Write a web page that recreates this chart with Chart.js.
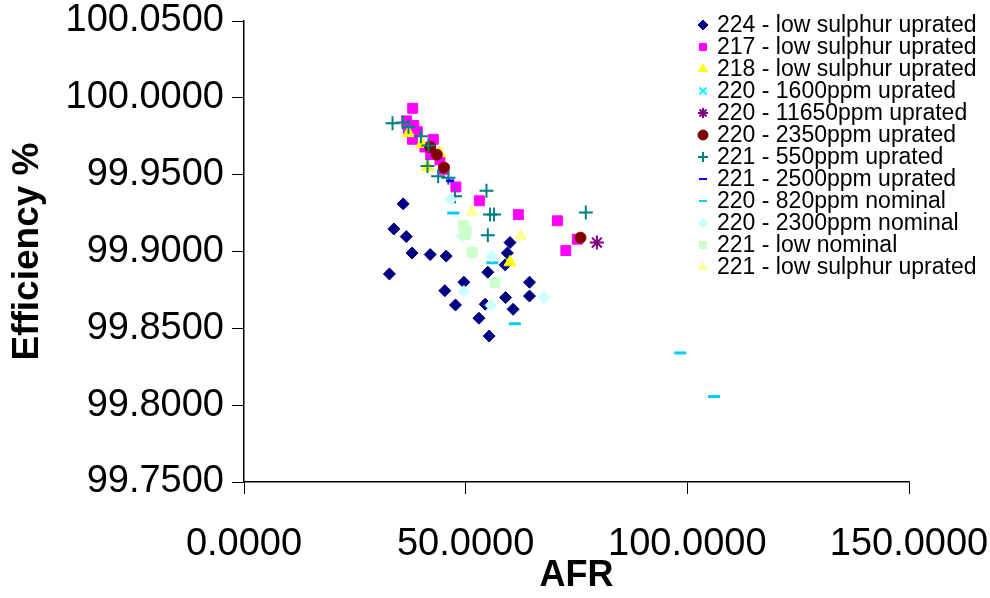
<!DOCTYPE html>
<html>
<head>
<meta charset="utf-8">
<script src="https://cdn.jsdelivr.net/npm/chart.js@4.4.1/dist/chart.umd.min.js"></script>
<style>
  html, body { margin: 0; padding: 0; background: #fff; }
  #wrap { width: 990px; height: 598px; position: relative; }
</style>
</head>
<body>
<div id="wrap"><canvas id="effChart"></canvas></div>
<script>
// AFR / efficiency pairs, one pair of arrays per series
const s224x = [35.9, 33.8, 36.6, 37.9, 42.0, 45.6, 32.8, 49.6, 45.3, 47.7, 54.4, 53.0, 55.3, 55.0, 58.9, 59.4, 60.0, 64.4, 64.4, 59.0, 60.7];
const s224y = [99.931, 99.9147, 99.9097, 99.899, 99.898, 99.897, 99.8854, 99.880, 99.8745, 99.8652, 99.8657, 99.8566, 99.845, 99.8865, 99.8913, 99.899, 99.9058, 99.880, 99.871, 99.870, 99.8624];

const s217x = [38.05, 36.7, 38.3, 37.1, 39.1, 38.0, 42.7, 40.8, 42.1, 44.2, 45.1, 47.8, 53.1, 61.9, 70.7, 72.6, 75.2];
const s217y = [99.9932, 99.985, 99.982, 99.9795, 99.978, 99.973, 99.973, 99.968, 99.963, 99.9596, 99.9535, 99.942, 99.933, 99.924, 99.920, 99.9006, 99.908];

const s218x = [37.1, 40.1, 44.1, 41.4, 60.0];
const s218y = [99.977, 99.970, 99.964, 99.955, 99.893];

const s220_1600x = [];
const s220_1600y = [];

const s220_11650x = [79.6];
const s220_11650y = [99.9058];

const s220_2350x = [42.0, 43.5, 45.1, 75.9];
const s220_2350y = [99.968, 99.963, 99.9546, 99.909];

const s221_550x = [33.5, 35.8, 37.1, 39.9, 41.6, 41.4, 43.8, 46.1, 47.6, 54.7, 55.5, 56.4, 55.0, 77.1];
const s221_550y = [99.9834, 99.984, 99.981, 99.975, 99.969, 99.9557, 99.949, 99.948, 99.936, 99.9396, 99.924, 99.924, 99.9106, 99.9253];

const s221_2500x = [46.5];
const s221_2500y = [99.946];

const s220_820x = [47.2, 56.0, 61.1, 98.4, 106.0];
const s220_820y = [99.925, 99.8927, 99.853, 99.834, 99.8056];

const s220_2300x = [46.6, 49.1, 56.0, 49.6, 55.7, 67.7];
const s220_2300y = [99.934, 99.910, 99.897, 99.874, 99.865, 99.870];

const s221_lowx = [49.5, 50.1, 49.9, 51.5, 56.6];
const s221_lowy = [99.917, 99.9136, 99.911, 99.8995, 99.880];

const s221_lsx = [51.4, 62.4];
const s221_lsy = [99.926, 99.910];

const xTicks = [0, 50, 100, 150];
const yTicks = [99.75, 99.80, 99.85, 99.90, 99.95, 100.00, 100.05];

function pts(xs, ys) {
    return xs.map((x, i) => ({ x: x, y: ys[i] }));
}

let seriesCount = 0;
function series(label, xs, ys, style, color, radius, border) {
    seriesCount++;
    return {
        label: label,
        data: pts(xs, ys),
        pointStyle: style,
        pointRadius: radius,
        pointHoverRadius: radius,
        backgroundColor: color,
        borderColor: color,
        pointBorderWidth: border,
        showLine: false,
        // later series sit on top, as in the original
        order: 100 - seriesCount
    };
}

const datasets = [
    series('224 - low sulphur uprated', s224x, s224y, 'rectRot', '#000080', 6, 1),
    series('217 - low sulphur uprated', s217x, s217y, 'rect', '#FF00FF', 7, 1),
    series('218 - low sulphur uprated', s218x, s218y, 'triangle', '#FFFF00', 7, 1),
    series('220 - 1600ppm uprated', s220_1600x, s220_1600y, 'crossRot', '#00FFFF', 6, 2),
    series('220 - 11650ppm uprated', s220_11650x, s220_11650y, 'star', '#800080', 7, 2),
    series('220 - 2350ppm uprated', s220_2350x, s220_2350y, 'circle', '#800000', 5.5, 1),
    series('221 - 550ppm uprated', s221_550x, s221_550y, 'cross', '#008080', 7, 2),
    series('221 - 2500ppm uprated', s221_2500x, s221_2500y, 'line', '#0000FF', 4, 3),
    series('220 - 820ppm nominal', s220_820x, s220_820y, 'line', '#00CCFF', 6, 3),
    series('220 - 2300ppm nominal', s220_2300x, s220_2300y, 'rectRot', '#CCFFFF', 6, 1),
    series('221 - low nominal', s221_lowx, s221_lowy, 'rect', '#CCFFCC', 7, 1),
    series('221 - low sulphur uprated', s221_lsx, s221_lsy, 'triangle', '#FFFF99', 7, 1)
];

const axisFont = { family: '"Liberation Sans", Arial, sans-serif', size: 38 };
const xTitleFont = { family: '"Liberation Sans", Arial, sans-serif', size: 36, weight: 'bold' };
const yTitleFont = { family: '"Liberation Sans", Arial, sans-serif', size: 37, weight: 'bold' };

// legend sits over the right part of the plot, like the original
const overlayLegend = {
    id: 'overlayLegend',
    afterDraw(chart) {
        const ctx = chart.ctx;
        ctx.save();
        ctx.font = '23px "Liberation Sans", Arial, sans-serif';
        ctx.textBaseline = 'middle';
        ctx.textAlign = 'left';
        chart.data.datasets.forEach((ds, i) => {
            const y = 25 + i * 22;
            const thin = ['line', 'cross', 'crossRot', 'star'].includes(ds.pointStyle);
            ctx.fillStyle = ds.backgroundColor;
            ctx.strokeStyle = ds.borderColor;
            ctx.lineWidth = thin ? 2 : 1;
            Chart.helpers.drawPoint(ctx, {
                pointStyle: ds.pointStyle,
                radius: ds.pointStyle === 'line' ? 4 : 5,
                borderWidth: thin ? 2 : 1,
                rotation: 0
            }, 703, y);
            ctx.fillStyle = '#000';
            ctx.fillText(ds.label, 717, y + 1);
        });
        ctx.restore();
    }
};

new Chart(document.getElementById('effChart'), {
    type: 'scatter',
    data: { datasets: datasets },
    options: {
        responsive: true,
        maintainAspectRatio: false,
        animation: false,
        events: [],
        layout: { padding: { top: 21, right: 81, left: 0, bottom: 0 } },
        plugins: {
            legend: { display: false },
            tooltip: { enabled: false }
        },
        scales: {
            x: {
                type: 'linear',
                min: 0,
                max: 150,
                afterBuildTicks: s => { s.ticks = xTicks.map(v => ({ value: v })); },
                afterFit: s => { s.height = 116; s.paddingLeft = 0; s.paddingRight = 0; },
                grid: { drawOnChartArea: false, drawTicks: true, tickLength: 12, color: '#000', lineWidth: 1 },
                border: { display: true, color: '#000', width: 1.5 },
                ticks: { color: '#000', font: axisFont, padding: 28, maxRotation: 0, callback: v => Number(v).toFixed(4) },
                title: { display: true, text: 'AFR', color: '#000', font: xTitleFont, padding: { top: 0, bottom: 0 } }
            },
            y: {
                type: 'linear',
                min: 99.75,
                max: 100.05,
                afterBuildTicks: s => { s.ticks = yTicks.map(v => ({ value: v })); },
                afterFit: s => { s.width = 244; s.paddingTop = 0; s.paddingBottom = 0; },
                grid: { drawOnChartArea: false, drawTicks: true, tickLength: 12, color: '#000', lineWidth: 1 },
                border: { display: true, color: '#000', width: 1.5 },
                ticks: { color: '#000', font: axisFont, padding: 8, callback: v => Number(v).toFixed(4) },
                title: { display: true, text: 'Efficiency %', color: '#000', font: yTitleFont, padding: { top: 6, bottom: 0 } }
            }
        }
    },
    plugins: [overlayLegend]
});
</script>
</body>
</html>
